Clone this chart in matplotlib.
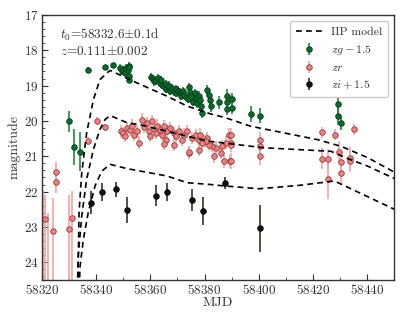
import numpy as np
import matplotlib
matplotlib.use("Agg")
import matplotlib.pyplot as plt
from matplotlib.ticker import MultipleLocator

plt.rcParams['font.family'] = 'serif'
plt.rcParams['font.serif'] = ['cmr10', 'DejaVu Serif']
plt.rcParams['mathtext.fontset'] = 'cm'
plt.rcParams['axes.unicode_minus'] = False
plt.rcParams['axes.formatter.use_mathtext'] = True

# ---- zg - 1.5 ----
g_mjd = [58330.1, 58332.0, 58334.2, 58337.1, 58343.1, 58346.2,
         58348.9, 58349.5, 58350.1, 58350.7, 58351.1, 58351.6, 58352.0, 58352.3, 58352.0, 58352.3,
         58360.2, 58361.0, 58361.5, 58362.2, 58362.7, 58363.4, 58364.0, 58364.3, 58364.9, 58365.6,
         58365.9, 58366.4, 58366.8, 58367.4, 58368.0, 58368.6, 58369.3, 58369.6, 58370.1, 58370.9,
         58371.4, 58371.7, 58372.1, 58372.6, 58373.3, 58373.8, 58374.2, 58374.6, 58375.1, 58375.8,
         58376.3, 58376.7, 58377.3, 58377.9, 58378.3, 58378.8, 58379.1, 58381.0, 58381.6, 58382.0,
         58382.5, 58385.3, 58388.4, 58388.4, 58388.4, 58390.2, 58390.2, 58397.3, 58400.4,
         58429.4, 58429.4, 58430.4]
g_mag = [20.01, 20.74, 20.87, 18.55, 18.48, 18.43,
         18.50, 18.60, 18.55, 18.63, 18.50, 18.57, 18.44, 18.48, 18.74, 18.83,
         18.76, 18.81, 18.88, 18.85, 18.79, 18.93, 18.85, 18.97, 19.02, 18.95,
         19.10, 19.04, 19.00, 19.14, 19.07, 19.16, 19.10, 19.21, 19.14, 19.19,
         19.30, 19.21, 19.16, 19.26, 19.32, 19.38, 19.04, 19.19, 19.28, 19.45,
         19.21, 19.35, 19.49, 19.28, 19.42, 19.57, 19.77, 19.12, 19.26, 19.40,
         19.59, 19.47, 19.28, 19.47, 19.66, 19.38, 19.63, 19.80, 19.85,
         19.52, 19.87, 20.07]
g_err = [0.30, 0.50, 0.55, 0.07, 0.06, 0.06,
         0.10, 0.10, 0.10, 0.10, 0.10, 0.10, 0.10, 0.10, 0.10, 0.10,
         0.12, 0.12, 0.12, 0.12, 0.12, 0.12, 0.12, 0.12, 0.12, 0.12,
         0.12, 0.12, 0.12, 0.12, 0.12, 0.12, 0.12, 0.12, 0.12, 0.12,
         0.12, 0.12, 0.12, 0.12, 0.12, 0.12, 0.12, 0.12, 0.12, 0.12,
         0.12, 0.12, 0.14, 0.14, 0.14, 0.14, 0.16, 0.15, 0.15, 0.15,
         0.15, 0.18, 0.18, 0.18, 0.18, 0.18, 0.18, 0.22, 0.22,
         0.30, 0.25, 0.20]

# ---- zr ----
r_mjd = [58321.1, 58324.0, 58325.1, 58325.1, 58330.1, 58331.0,
         58337.1, 58340.2, 58343.3,
         58349.1, 58350.1, 58351.4, 58350.7, 58352.6, 58353.2, 58353.8, 58355.1, 58356.0, 58356.9,
         58357.5, 58358.8, 58359.4, 58360.0, 58360.6, 58361.2, 58362.2, 58362.5, 58363.7, 58364.3,
         58364.9, 58365.6, 58366.2, 58367.4, 58368.6, 58369.3, 58370.5, 58371.7, 58372.6, 58373.6,
         58374.2, 58375.4, 58376.7, 58377.9, 58378.5, 58379.7, 58381.0,
         58389.0, 58389.6, 58387.8, 58386.5, 58385.9, 58384.1, 58383.4, 58382.8, 58389.4, 58387.2,
         58381.6, 58380.4, 58379.1, 58377.9, 58374.2, 58368.6, 58364.9,
         58389.6, 58389.6, 58389.6, 58400.3, 58400.3, 58400.3,
         58423.3, 58428.3, 58435.3, 58423.3, 58425.4, 58425.4, 58429.5, 58430.4, 58430.4,
         58433.5, 58433.5]
r_mag = [22.78, 23.11, 21.45, 21.73, 23.07, 22.76,
         20.57, 19.99, 20.18,
         20.29, 20.34, 20.20, 20.43, 20.26, 20.13, 20.39, 20.29, 20.62, 19.96,
         20.17, 20.06, 20.29, 20.43, 20.01, 20.22, 20.34, 20.13, 20.26, 20.39,
         20.15, 20.53, 20.29, 20.20, 20.34, 20.43, 20.29, 20.53, 20.39, 20.29,
         20.90, 20.48, 20.41, 20.53, 20.39, 20.57, 20.48,
         20.39, 20.62, 20.62, 20.71, 20.90, 20.76, 21.00, 20.71, 21.14, 21.14,
         20.67, 20.57, 20.62, 20.81, 20.88, 20.67, 20.64,
         20.41, 20.67, 21.14, 20.55, 20.70, 21.00,
         20.32, 20.39, 20.24, 21.07, 21.09, 21.65, 20.88, 21.16, 21.47,
         21.04, 21.14]
r_err_lo = [0.68, 0.94, 0.30, 0.30, 0.97, 0.78,
            0.12, 0.10, 0.10]
r_err_lo += [0.18] * 37
r_err_lo += [0.18] * 17
r_err_lo += [0.22, 0.22, 0.22, 0.25, 0.25, 0.25,
             0.15, 0.15, 0.15, 0.30, 0.30, 0.55, 0.30, 0.30, 0.30,
             0.30, 0.30]
r_err_hi = [3.0, 3.0, 0.30, 0.30, 3.0, 3.0] + r_err_lo[6:]
# points below the plot whose error bars reach into it
rx_mjd = [58320.5, 58322.2]
rx_mag = [25.5, 25.5]
rx_err = [3.55, 2.9]

# ---- zi + 1.5 ----
i_mjd = [58338.0, 58342.1, 58347.3, 58351.4, 58362.2, 58366.2, 58375.4, 58379.4, 58387.4, 58400.5]
i_mag = [22.31, 22.01, 21.94, 22.53, 22.12, 22.01, 22.24, 22.55, 21.75, 23.04]
i_err = [0.33, 0.26, 0.20, 0.37, 0.30, 0.25, 0.30, 0.40, 0.17, 0.66]

# ---- IIP model ----
mg_mjd = [58333.2, 58333.7, 58334.7, 58336.5, 58339.0, 58341.4, 58344.6, 58345.2, 58353.8, 58366.2,
          58373.6, 58382.2, 58387.8, 58397.0, 58409.4, 58421.7, 58430.4, 58440.2, 58450.0]
mg_mag = [25.0, 22.59, 21.47, 20.34, 19.40, 18.83, 18.60, 18.57, 18.88, 19.30,
          19.58, 19.80, 19.91, 20.15, 20.34, 20.53, 20.72, 21.04, 21.45]
mr_mjd = [58333.0, 58333.4, 58334.7, 58336.5, 58339.0, 58341.4, 58343.3, 58345.2, 58351.4, 58356.3,
          58368.6, 58381.0, 58392.0, 58401.9, 58414.3, 58426.7, 58432.9, 58440.2, 58450.0]
mr_mag = [25.0, 23.82, 22.69, 21.65, 20.81, 20.24, 19.96, 19.85, 20.05, 20.11,
          20.34, 20.57, 20.67, 20.76, 20.81, 20.86, 21.07, 21.28, 21.63]
mi_mjd = [58333.6, 58334.1, 58335.3, 58337.1, 58339.6, 58342.1, 58345.2, 58351.4, 58366.2, 58373.6,
          58382.2, 58387.2, 58400.1, 58415.5, 58427.9, 58450.0]
mi_mag = [25.0, 24.10, 23.35, 22.59, 21.84, 21.42, 21.23, 21.35, 21.56, 21.75,
          21.80, 21.84, 21.92, 21.82, 21.70, 22.50]

fig = plt.figure(figsize=(4.15, 3.12), dpi=100)
ax = fig.add_axes([0.101, 0.103, 0.849, 0.849])

dash = (0, (3.5, 2.5))
ax.plot(mg_mjd, mg_mag, color='black', lw=1.2, ls=dash, label='IIP model', zorder=5)
ax.plot(mr_mjd, mr_mag, color='black', lw=1.2, ls=dash, zorder=5)
ax.plot(mi_mjd, mi_mag, color='black', lw=1.2, ls=dash, zorder=5)

ax.errorbar(g_mjd, g_mag, yerr=g_err, fmt='o', ms=4.0, mfc='#0b6b2a', mec='#06391a', mew=0.6,
            ecolor='#1f8a3c', elinewidth=1.2, capsize=0, label=r'$zg-1.5$', zorder=3)
ax.errorbar(r_mjd, r_mag, yerr=[r_err_lo, r_err_hi], fmt='o', ms=4.0, mfc='#f08080', mec='#8a4040',
            mew=0.6, ecolor='#f5a3a3', elinewidth=1.2, capsize=0, label=r'$zr$', zorder=2)
ax.errorbar(rx_mjd, rx_mag, yerr=[rx_err, [0.1, 0.1]], fmt='o', ms=4.0, mfc='#f08080', mec='#8a4040',
            mew=0.6, ecolor='#f5a3a3', elinewidth=1.2, capsize=0, zorder=2)
ax.errorbar(i_mjd, i_mag, yerr=i_err, fmt='o', ms=4.0, mfc='#111111', mec='black', mew=0.6,
            ecolor='#333322', elinewidth=1.2, capsize=0, label=r'$zi+1.5$', zorder=4)

ax.set_xlim(58320, 58450)
ax.set_ylim(24.5, 17)
ax.xaxis.set_major_locator(MultipleLocator(20))
ax.xaxis.set_minor_locator(MultipleLocator(10))
ax.yaxis.set_major_locator(MultipleLocator(1))
ax.yaxis.set_minor_locator(MultipleLocator(0.2))
ax.tick_params(which='both', direction='in', top=False, right=False, labelsize=9.5, colors='#333333')
ax.tick_params(which='major', length=4, width=0.8, pad=2.5)
ax.tick_params(which='minor', length=2, width=0.6)
for s in ax.spines.values():
    s.set_color('#333333')
    s.set_linewidth(1.0)

ax.set_xlabel('MJD', fontsize=10, color='#333333', labelpad=0)
ax.set_ylabel('magnitude', fontsize=10, color='#333333', labelpad=2)

ax.text(0.05, 0.955, r'$t_0$=58332.6$\pm$0.1d', transform=ax.transAxes, fontsize=9.5,
        va='top', ha='left', color='#333333')
ax.text(0.05, 0.885, r'$z$=0.111$\pm$0.002', transform=ax.transAxes, fontsize=9.5,
        va='top', ha='left', color='#333333')

leg = ax.legend(loc='upper right', fontsize=8.5, frameon=True, fancybox=True, framealpha=1,
                edgecolor='#cccccc', handlelength=2.2, borderpad=0.5, labelspacing=0.5)
for t in leg.get_texts():
    t.set_color('#333333')

fig.savefig('out.png', dpi=100)
